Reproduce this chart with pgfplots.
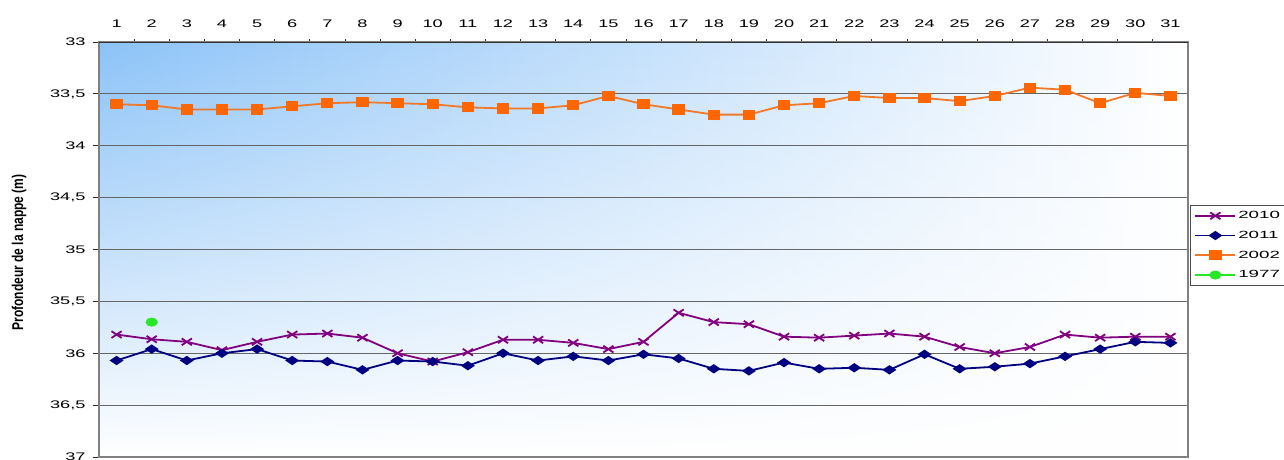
\documentclass[border=0pt]{standalone}
\usepackage{fontspec}
\setmainfont{Liberation Sans}[FakeStretch=1.65]
\newfontfamily\labelfont{Liberation Sans}
\newfontfamily\legfont{Liberation Sans}[FakeStretch=1.8]
\usepackage{pgfplots}
\pgfplotsset{compat=1.18}
\usetikzlibrary{fadings}
\definecolor{bgblue}{RGB}{140,195,248}
\definecolor{c2010}{RGB}{128,0,128}
\definecolor{c2011}{RGB}{0,0,128}
\definecolor{c2002}{RGB}{255,102,0}
\definecolor{c2002line}{RGB}{240,120,40}
\definecolor{c1977}{RGB}{40,230,40}
\pgfplotstableread{
x y
1 35.82
2 35.865
3 35.89
4 35.97
5 35.89
6 35.82
7 35.81
8 35.85
9 36.00
10 36.08
11 35.99
12 35.87
13 35.87
14 35.90
15 35.96
16 35.89
17 35.61
18 35.70
19 35.72
20 35.84
21 35.85
22 35.83
23 35.81
24 35.84
25 35.94
26 36.00
27 35.94
28 35.82
29 35.85
30 35.84
31 35.84
}\tabA
\pgfplotstableread{
x y
1 36.07
2 35.96
3 36.07
4 36.00
5 35.96
6 36.07
7 36.08
8 36.16
9 36.07
10 36.08
11 36.12
12 36.00
13 36.07
14 36.03
15 36.07
16 36.01
17 36.05
18 36.15
19 36.17
20 36.09
21 36.15
22 36.14
23 36.16
24 36.01
25 36.15
26 36.13
27 36.10
28 36.03
29 35.96
30 35.89
31 35.90
}\tabB
\pgfplotstableread{
x y
1 33.60
2 33.61
3 33.65
4 33.65
5 33.65
6 33.62
7 33.59
8 33.58
9 33.59
10 33.60
11 33.63
12 33.64
13 33.64
14 33.61
15 33.52
16 33.60
17 33.65
18 33.70
19 33.70
20 33.61
21 33.59
22 33.52
23 33.54
24 33.54
25 33.57
26 33.52
27 33.44
28 33.46
29 33.59
30 33.49
31 33.52
}\tabC
\begin{document}
\begin{tikzpicture}
\useasboundingbox (-99pt,-3pt) rectangle (1185pt,457pt);
\begin{axis}[
  at={(0pt,0pt)}, anchor=south west,
  scale only axis, width=1089pt, height=415pt,
  xmin=0.5, xmax=31.5, ymin=33, ymax=37, y dir=reverse,
  axis background/.style={left color=bgblue, right color=white,
     postaction={fill=white, path fading=north}},
  xtick={1,...,31},
  xtick pos=upper, xticklabel pos=upper,
  ytick pos=left,
  ytick={33,33.5,...,37},
  minor xtick={1.5,2.5,...,30.5},
  tick align=outside,
  major tick length=6pt, minor tick length=3pt,
  major x tick style={draw=none},
  minor x tick style={black!80, line width=0.8pt},
  major y tick style={black!80, line width=0.8pt},
  ymajorgrids,
  major grid style={black!60, line width=1pt},
  axis line style={black!50, line width=1.5pt},
  /pgf/number format/assume math mode=true,
  /pgf/number format/use comma,
  tick label style={font=\fontsize{11}{13}\selectfont},
  xticklabel style={yshift=5pt},
  yticklabel style={xshift=-4pt},
  legend style={at={(axis description cs:1.002,0.607)}, anchor=north west,
     draw=black!70, line width=0.6pt, font=\legfont\fontsize{10.4}{12}\selectfont,
     inner xsep=4pt, inner ysep=4pt, row sep=7pt, cells={anchor=west}},
  legend image code/.code={\draw[mark repeat=2,mark phase=2] plot coordinates {(0pt,0pt) (20pt,0pt) (40pt,0pt)};},
  legend cell align=left,
]
\addplot[c2010, line width=1.8pt, mark=x, mark size=4.8pt, mark options={xscale=1.5, line width=1.8pt}] table[x=x,y=y] {\tabA};
\addlegendentry{2010}
\addplot[c2011, line width=1.8pt, mark=diamond*, mark size=3.6pt, mark options={xscale=2}] table[x=x,y=y] {\tabB};
\addlegendentry{2011}
\addplot[c2002line, line width=1.8pt, mark=square*, mark size=4.2pt, mark options={xscale=1.25, fill=c2002, draw=c2002}] table[x=x,y=y] {\tabC};
\addlegendentry{2002}
\addplot[c1977, line width=1.8pt, mark=*, mark size=3.6pt, mark options={xscale=1.43}] coordinates {(2,35.70)};
\addlegendentry{1977}
\draw[black!80, line width=0.8pt] (axis description cs:0,1) -- (axis description cs:1,1);
\end{axis}
\begin{scope}[shift={(-80pt,204.5pt)}]
\node[xscale=1.3, rotate=90, font=\labelfont\bfseries\fontsize{12}{14}\selectfont, inner sep=0pt] at (0,0) {Profondeur de la nappe (m)};
\end{scope}
\end{tikzpicture}
\end{document}
